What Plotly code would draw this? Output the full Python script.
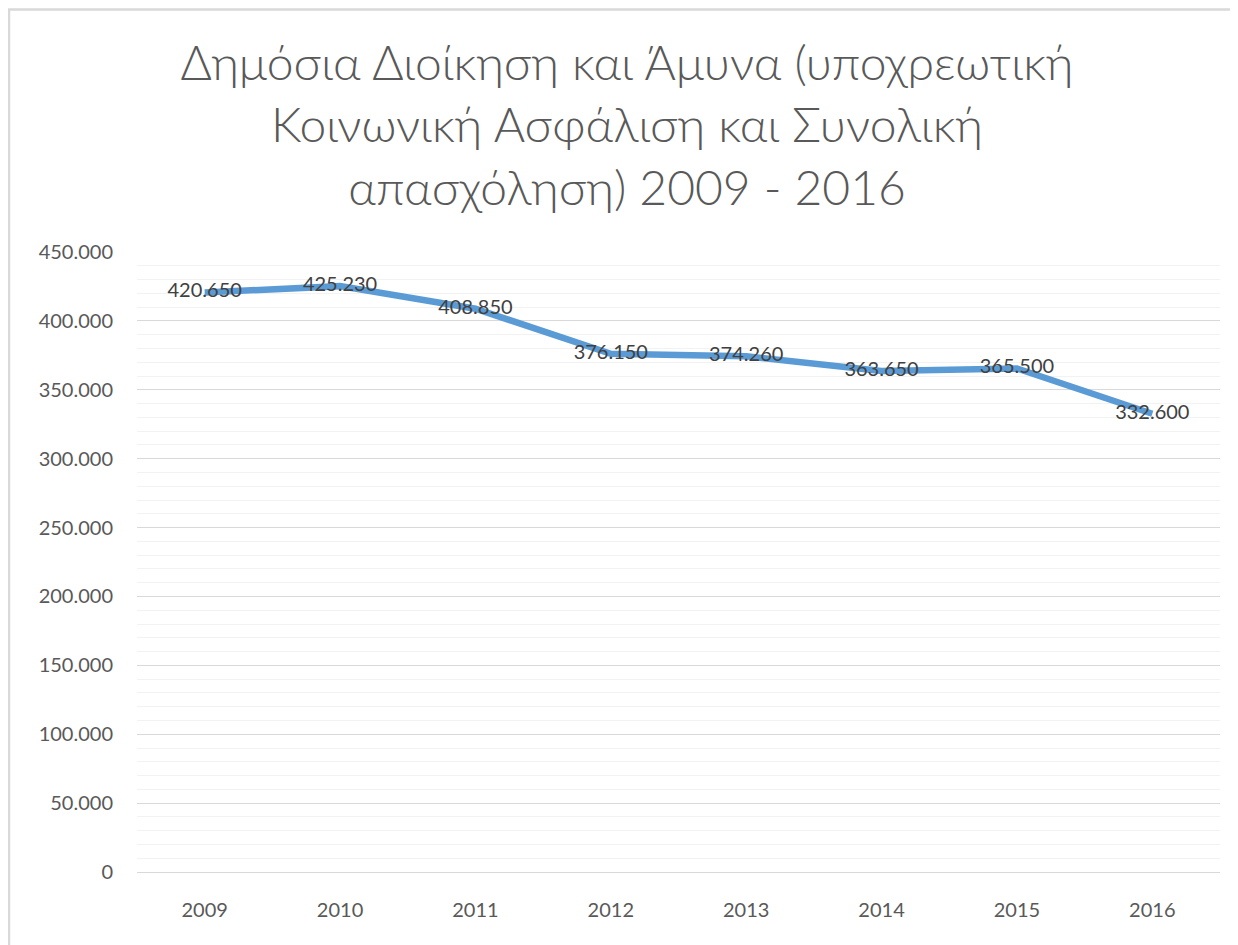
import plotly.graph_objects as go

years = ["2009", "2010", "2011", "2012", "2013", "2014", "2015", "2016"]
employment = [420650, 425230, 408850, 376150, 374260, 363650, 365500, 332600]
title_text = "Δημόσια Διοίκηση και Άμυνα (υποχρεωτική<br>Κοινωνική Ασφάλιση και Συνολική<br>απασχόληση) 2009 - 2016"

labels = [f"{v:,}".replace(",", ".") for v in employment]

W, H = 1238, 945
# plot area in figure coordinates (page has an 8px body margin)
L, R, T, B = 129, 1212, 244, 864

fig = go.Figure()
fig.add_trace(go.Scatter(
    x=years, y=employment, mode="lines+text",
    line=dict(color="#5B9BD5", width=6.5),
    text=labels, textposition="middle center",
    textfont=dict(family="Lato, Open Sans, sans-serif", size=20, color="#404040"),
    cliponaxis=False, hoverinfo="skip",
))

pw, ph = R - L, B - T
fig.add_shape(type="rect", xref="paper", yref="paper",
              x0=(1 - L) / pw, x1=(W + 10 - L) / pw,
              y0=(B - H - 10) / ph, y1=(B - 1.5) / ph,
              line=dict(color="#D9D9D9", width=2.5), fillcolor="rgba(0,0,0,0)", layer="below")

fig.update_layout(
    width=W, height=H,
    margin=dict(l=L, r=W - R, t=T, b=H - B),
    paper_bgcolor="white", plot_bgcolor="white",
    separators=",.",
    showlegend=False,
    title=dict(text=title_text, x=0.5, xanchor="center", y=1 - 72 / H, yanchor="middle",
               yref="container", xref="container",
               font=dict(family="Lato, Open Sans, sans-serif", size=48, color="#595959", weight=300)),
    font=dict(family="Lato, Open Sans, sans-serif", color="#595959"),
)
fig.update_xaxes(type="category", range=[-0.5, 7.5], showgrid=False, showline=False,
                 ticks="", tickfont=dict(size=20, color="#595959"), ticklabelstandoff=24)
fig.update_yaxes(range=[0, 450000], dtick=50000, tickformat=",d",
                 showgrid=True, gridcolor="#D9D9D9", gridwidth=1.3,
                 zeroline=True, zerolinecolor="#D9D9D9", zerolinewidth=1.3,
                 minor=dict(dtick=10000, showgrid=True, gridcolor="#F2F2F2", gridwidth=1.3),
                 showline=False, ticks="", tickfont=dict(size=20, color="#595959"),
                 ticklabelstandoff=23)

fig.write_html("out.html")
